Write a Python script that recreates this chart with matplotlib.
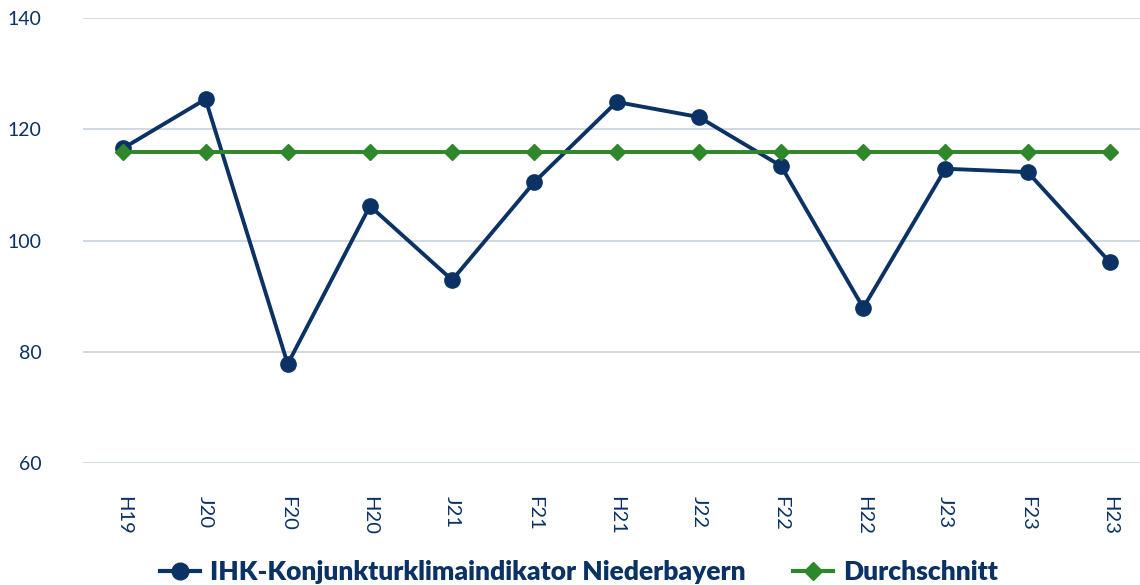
import matplotlib.pyplot as plt
from matplotlib.lines import Line2D

# half-year survey waves
labels = ['H19', 'J20', 'F20', 'H20', 'J21', 'F21', 'H21', 'J22', 'F22', 'H22', 'J23', 'F23', 'H23']
indikator = [116.6, 125.4, 77.8, 106.2, 92.9, 110.5, 124.9, 122.2, 113.4, 87.9, 112.9, 112.3, 96.1]
durchschnitt = [115.9] * len(labels)

navy = '#0b3264'
green = '#2f872b'

plt.rcParams['font.family'] = ['Lato', 'DejaVu Sans']

fig = plt.figure(figsize=(11.4, 5.85), dpi=100)
ax = fig.add_axes([83 / 1140, 122 / 585, 1068 / 1140, 445 / 585])

x = range(len(labels))
ax.plot(x, indikator, color=navy, lw=2.8, marker='o', ms=11, zorder=3,
        label='IHK-Konjunkturklimaindikator Niederbayern')
ax.plot(x, durchschnitt, color=green, lw=2.8, marker='D', ms=8, zorder=4,
        label='Durchschnitt')

ax.set_ylim(60, 140)
ax.set_yticks([60, 80, 100, 120, 140])
ax.set_xlim(-0.49, 12.5)
ax.set_xticks(list(x))
ax.set_xticklabels(labels, rotation=-90)
ax.tick_params(axis='both', length=0, labelcolor=navy)
ax.tick_params(axis='x', pad=24, labelsize=14.5)
ax.tick_params(axis='y', pad=30, labelsize=14)
ax.grid(axis='y', color='#cdd5e0', lw=1.3)
ax.set_axisbelow(True)
for s in ax.spines.values():
    s.set_visible(False)

handles = [Line2D([], [], color=navy, lw=3, marker='o', ms=12),
           Line2D([], [], color=green, lw=3, marker='D', ms=9)]
leg = fig.legend(handles, ['IHK-Konjunkturklimaindikator Niederbayern', 'Durchschnitt'],
                 loc='center', bbox_to_anchor=(0.508, 0.022), ncol=2, frameon=False,
                 handlelength=1.5, columnspacing=1.8, handletextpad=0.4,
                 prop={'weight': 'heavy', 'size': 19})
for t in leg.get_texts():
    t.set_color(navy)

fig.savefig('out.png', dpi=100)
